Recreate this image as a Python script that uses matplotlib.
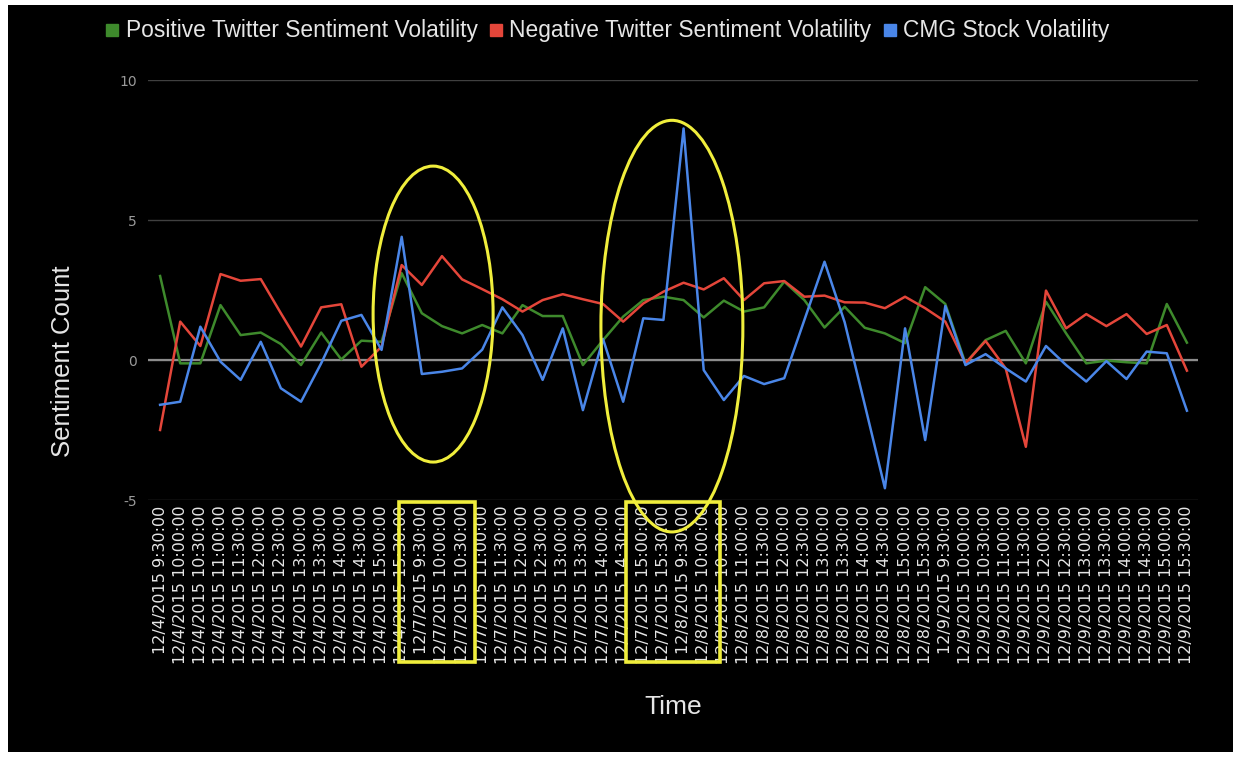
import matplotlib
matplotlib.use('Agg')
import matplotlib.pyplot as plt
from matplotlib.patches import Ellipse, Rectangle
from matplotlib.lines import Line2D
import matplotlib.transforms as mtransforms

# ---------------- data ----------------
days = ['12/4/2015', '12/7/2015', '12/8/2015', '12/9/2015']
times = ['9:30:00', '10:00:00', '10:30:00', '11:00:00', '11:30:00', '12:00:00',
         '12:30:00', '13:00:00', '13:30:00', '14:00:00', '14:30:00', '15:00:00',
         '15:30:00']
labels = [f'{d} {t}' for d in days for t in times]

positive = [3.0, -0.12, -0.12, 1.96, 0.89, 0.98, 0.57, -0.18, 0.98, 0.02, 0.69, 0.65, 3.1,
            1.67, 1.21, 0.95, 1.25,
            0.95, 1.96, 1.57, 1.57, -0.18, 0.71, 1.55, 2.14, 2.26, 2.14, 1.52, 2.12, 1.73,
            1.88, 2.8, 2.14, 1.16, 1.9,
            1.15, 0.95, 0.6, 2.6, 2.0, -0.12, 0.71, 1.04, -0.12, 2.08, 0.95, -0.12, -0.02,
            -0.08, -0.12, 2.0, 0.62]
negative = [-2.5, 1.37, 0.5, 3.07, 2.83, 2.89, 1.67, 0.48, 1.88, 1.99, -0.24, 0.48, 3.39,
            2.68, 3.71, 2.88, 2.53,
            2.17, 1.73, 2.14, 2.35, 2.17, 2.0, 1.37, 2.02, 2.44, 2.76, 2.52, 2.92, 2.14,
            2.74, 2.82, 2.26, 2.3, 2.06,
            2.05, 1.85, 2.26, 1.85, 1.37, -0.12, 0.68, -0.3, -3.1, 2.48, 1.13, 1.64, 1.21,
            1.64, 0.93, 1.25, -0.38]
stock = [-1.6, -1.49, 1.19, -0.06, -0.71, 0.65, -1.01, -1.49, -0.12, 1.40, 1.61, 0.36, 4.40,
         -0.5, -0.42, -0.30, 0.37,
         1.88, 0.89, -0.71, 1.13, -1.79, 0.75, -1.49, 1.49, 1.43, 8.27, -0.36, -1.43, -0.57,
         -0.86, -0.65, 1.43, 3.51, 1.35,
         -1.6, -4.58, 1.13, -2.86, 1.93, -0.18, 0.21, -0.3, -0.77, 0.5, -0.18, -0.77, -0.04,
         -0.68, 0.3, 0.24, -1.81]
series_names = ['Positive Twitter Sentiment Volatility',
                'Negative Twitter Sentiment Volatility',
                'CMG Stock Volatility']
yticks = [-5, 0, 5, 10]

# ---------------- style ----------------
GREEN = '#3e8a2c'
RED = '#e4463a'
BLUE = '#4a86e8'
YELLOW = '#f0ee3c'
TEXT = '#e6e6e6'
W, H = 1233, 761

fig = plt.figure(figsize=(W / 100, H / 100), dpi=100)
fig.patch.set_facecolor('white')
fig.patches.append(Rectangle((8 / W, 9 / H), 1, 1 - 9 / H - 5 / H,
                             transform=fig.transFigure, facecolor='black',
                             edgecolor='none', zorder=-10))

ax = fig.add_axes([148 / W, 1 - 500 / H, 1050 / W, 420 / H])
ax.set_facecolor('black')
for s in ax.spines.values():
    s.set_visible(False)

x = list(range(len(labels)))
ax.plot(x, positive, color=GREEN, lw=1.8, zorder=3)
ax.plot(x, negative, color=RED, lw=1.8, zorder=3)
ax.plot(x, stock, color=BLUE, lw=1.8, zorder=4)

ax.set_xlim(-0.6, 51.55)
ax.set_ylim(-5, 10)
ax.set_yticks(yticks)
ax.set_yticklabels([str(v) for v in yticks], color='#9a9a9a', fontsize=10)
ax.yaxis.grid(True, color='#404040', lw=1)
ax.set_axisbelow(True)
ax.axhline(0, color='#8c8c8c', lw=1.6, zorder=2)
ax.tick_params(axis='both', length=0)
ax.tick_params(axis='y', pad=8)
ax.tick_params(axis='x', pad=4)
ax.set_xticks(x)
ax.set_xticklabels(labels, rotation=90, fontsize=11.5, color=TEXT)

fig.text(63 / W, 1 - 361 / H, 'Sentiment Count', rotation=90, ha='center',
         va='center', fontsize=18.5, color=TEXT, family='Liberation Sans')
fig.text(673 / W, 1 - 707 / H, 'Time', ha='center', va='center', fontsize=19,
         color=TEXT, family='Liberation Sans')

handles = [Line2D([], [], marker='s', linestyle='none', markersize=8,
                  markerfacecolor=c, markeredgecolor=c) for c in (GREEN, RED, BLUE)]
leg = fig.legend(handles, series_names, loc='center', ncol=3,
                 bbox_to_anchor=(608 / W, 1 - 31 / H), frameon=False,
                 prop={'family': 'Liberation Sans', 'size': 16.4},
                 handlelength=0.5, handletextpad=0.35, columnspacing=0.55)
for t in leg.get_texts():
    t.set_color(TEXT)

# yellow annotation shapes
ax.add_patch(Ellipse((13.56, 1.64), 5.96, 10.57, fill=False, ec=YELLOW, lw=2.2,
                     clip_on=False, zorder=6))
ax.add_patch(Ellipse((25.42, 1.21), 7.05, 14.7, fill=False, ec=YELLOW, lw=2.2,
                     clip_on=False, zorder=6))
blend = mtransforms.blended_transform_factory(ax.transData, fig.transFigure)
for x0, x1 in ((11.87, 15.64), (23.14, 27.8)):
    ax.add_patch(Rectangle((x0, 1 - 662 / H), x1 - x0, 160 / H, transform=blend,
                           fill=False, ec=YELLOW, lw=2.6, clip_on=False, zorder=6))

fig.savefig('out.png', dpi=100, facecolor=fig.get_facecolor())
